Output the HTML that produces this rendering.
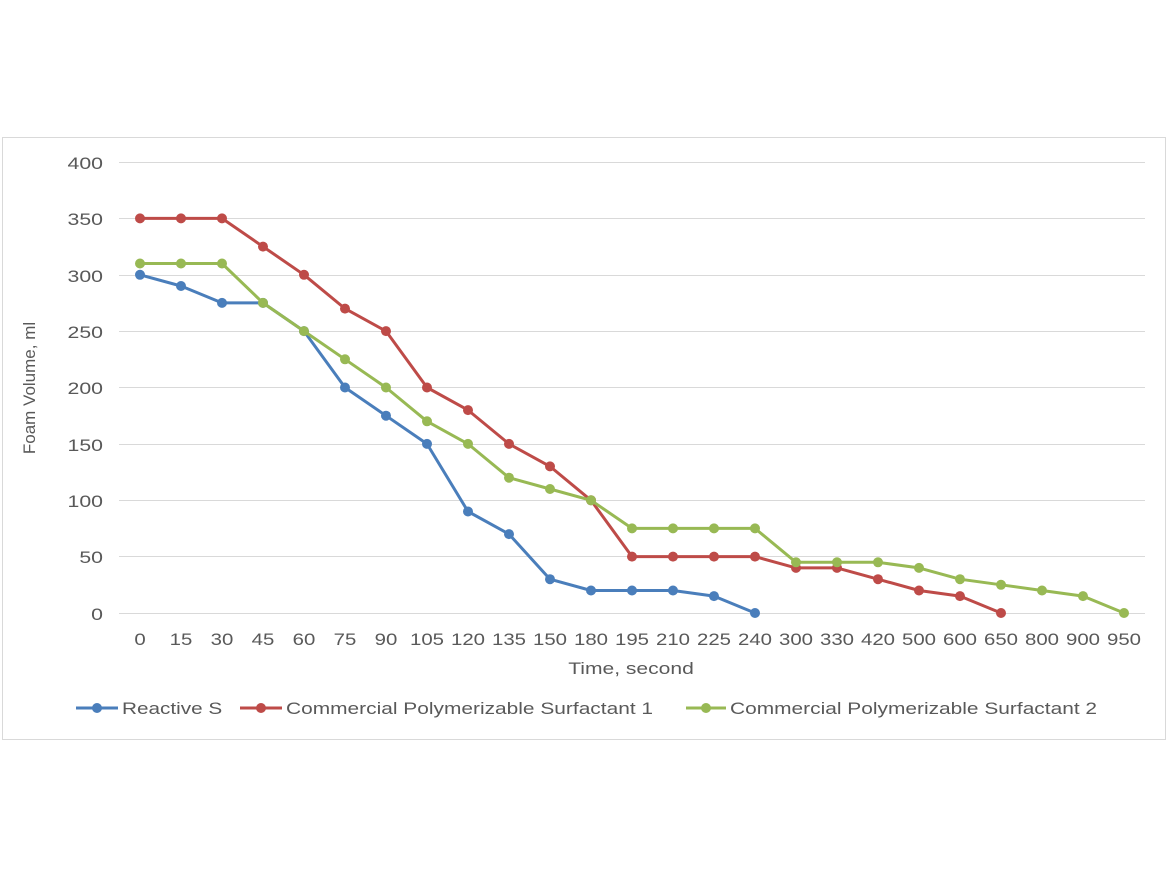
<!DOCTYPE html>
<html><head><style>body{margin:0;background:#fff}svg{display:block}</style></head><body>
<svg width="1170" height="878" xmlns="http://www.w3.org/2000/svg" font-family="Liberation Sans, sans-serif" fill="#595959">
<defs>
<marker id="mb" markerWidth="12" markerHeight="12" refX="6" refY="6" markerUnits="userSpaceOnUse"><circle cx="6" cy="6" r="5" fill="#4A7EBB"/></marker>
<marker id="mr" markerWidth="12" markerHeight="12" refX="6" refY="6" markerUnits="userSpaceOnUse"><circle cx="6" cy="6" r="5" fill="#BE4B48"/></marker>
<marker id="mg" markerWidth="12" markerHeight="12" refX="6" refY="6" markerUnits="userSpaceOnUse"><circle cx="6" cy="6" r="5" fill="#98B954"/></marker>
</defs>
<rect x="2.5" y="137.5" width="1163" height="602" fill="#fff" stroke="#d9d9d9"/>
<g stroke="#d9d9d9" stroke-width="1">
<line x1="119" x2="1145" y1="162.5" y2="162.5"/><line x1="119" x2="1145" y1="218.5" y2="218.5"/><line x1="119" x2="1145" y1="275.5" y2="275.5"/><line x1="119" x2="1145" y1="331.5" y2="331.5"/><line x1="119" x2="1145" y1="387.5" y2="387.5"/><line x1="119" x2="1145" y1="444.5" y2="444.5"/><line x1="119" x2="1145" y1="500.5" y2="500.5"/><line x1="119" x2="1145" y1="556.5" y2="556.5"/><line x1="119" x2="1145" y1="613.5" y2="613.5"/>
</g>
<g font-size="17" text-anchor="end">
<text transform="translate(103,169) scale(1.25,1)">400</text><text transform="translate(103,225) scale(1.25,1)">350</text><text transform="translate(103,282) scale(1.25,1)">300</text><text transform="translate(103,338) scale(1.25,1)">250</text><text transform="translate(103,394) scale(1.25,1)">200</text><text transform="translate(103,451) scale(1.25,1)">150</text><text transform="translate(103,507) scale(1.25,1)">100</text><text transform="translate(103,563) scale(1.25,1)">50</text><text transform="translate(103,620) scale(1.25,1)">0</text>
</g>
<g font-size="17" text-anchor="middle">
<text transform="translate(140,645) scale(1.2,1)">0</text><text transform="translate(181,645) scale(1.2,1)">15</text><text transform="translate(222,645) scale(1.2,1)">30</text><text transform="translate(263,645) scale(1.2,1)">45</text><text transform="translate(304,645) scale(1.2,1)">60</text><text transform="translate(345,645) scale(1.2,1)">75</text><text transform="translate(386,645) scale(1.2,1)">90</text><text transform="translate(427,645) scale(1.2,1)">105</text><text transform="translate(468,645) scale(1.2,1)">120</text><text transform="translate(509,645) scale(1.2,1)">135</text><text transform="translate(550,645) scale(1.2,1)">150</text><text transform="translate(591,645) scale(1.2,1)">180</text><text transform="translate(632,645) scale(1.2,1)">195</text><text transform="translate(673,645) scale(1.2,1)">210</text><text transform="translate(714,645) scale(1.2,1)">225</text><text transform="translate(755,645) scale(1.2,1)">240</text><text transform="translate(796,645) scale(1.2,1)">300</text><text transform="translate(837,645) scale(1.2,1)">330</text><text transform="translate(878,645) scale(1.2,1)">420</text><text transform="translate(919,645) scale(1.2,1)">500</text><text transform="translate(960,645) scale(1.2,1)">600</text><text transform="translate(1001,645) scale(1.2,1)">650</text><text transform="translate(1042,645) scale(1.2,1)">800</text><text transform="translate(1083,645) scale(1.2,1)">900</text><text transform="translate(1124,645) scale(1.2,1)">950</text>
<text transform="translate(631,674) scale(1.24,1)">Time, second</text>
<text transform="translate(35,388) rotate(-90)">Foam Volume, ml</text>
</g>
<g fill="none" stroke-width="3" stroke-linejoin="round">
<polyline stroke="#4A7EBB" marker-start="url(#mb)" marker-mid="url(#mb)" marker-end="url(#mb)" points="140,274.8 181,286 222,302.9 263,302.9 304,331.1 345,387.5 386,415.7 427,443.9 468,511.5 509,534.1 550,579.2 591,590.5 632,590.5 673,590.5 714,596.1 755,613"/>
<polyline stroke="#BE4B48" marker-start="url(#mr)" marker-mid="url(#mr)" marker-end="url(#mr)" points="140,218.4 181,218.4 222,218.4 263,246.6 304,274.8 345,308.6 386,331.1 427,387.5 468,410.1 509,443.9 550,466.4 591,500.3 632,556.6 673,556.6 714,556.6 755,556.6 796,567.9 837,567.9 878,579.2 919,590.5 960,596.1 1001,613"/>
<polyline stroke="#98B954" marker-start="url(#mg)" marker-mid="url(#mg)" marker-end="url(#mg)" points="140,263.5 181,263.5 222,263.5 263,302.9 304,331.1 345,359.3 386,387.5 427,421.3 468,443.9 509,477.7 550,489 591,500.3 632,528.4 673,528.4 714,528.4 755,528.4 796,562.3 837,562.3 878,562.3 919,567.9 960,579.2 1001,584.8 1042,590.5 1083,596.1 1124,613"/>
</g>
<g stroke-width="3">
<line x1="76" x2="118" y1="708" y2="708" stroke="#4A7EBB"/><circle cx="97" cy="708" r="5" fill="#4A7EBB"/>
<line x1="240" x2="282" y1="708" y2="708" stroke="#BE4B48"/><circle cx="261" cy="708" r="5" fill="#BE4B48"/>
<line x1="686" x2="726" y1="708" y2="708" stroke="#98B954"/><circle cx="706" cy="708" r="5" fill="#98B954"/>
</g>
<g font-size="17">
<text transform="translate(122,714) scale(1.22,1)">Reactive S</text>
<text transform="translate(286,714) scale(1.23,1)">Commercial Polymerizable Surfactant 1</text>
<text transform="translate(730,714) scale(1.23,1)">Commercial Polymerizable Surfactant 2</text>
</g>
</svg>
</body></html>
